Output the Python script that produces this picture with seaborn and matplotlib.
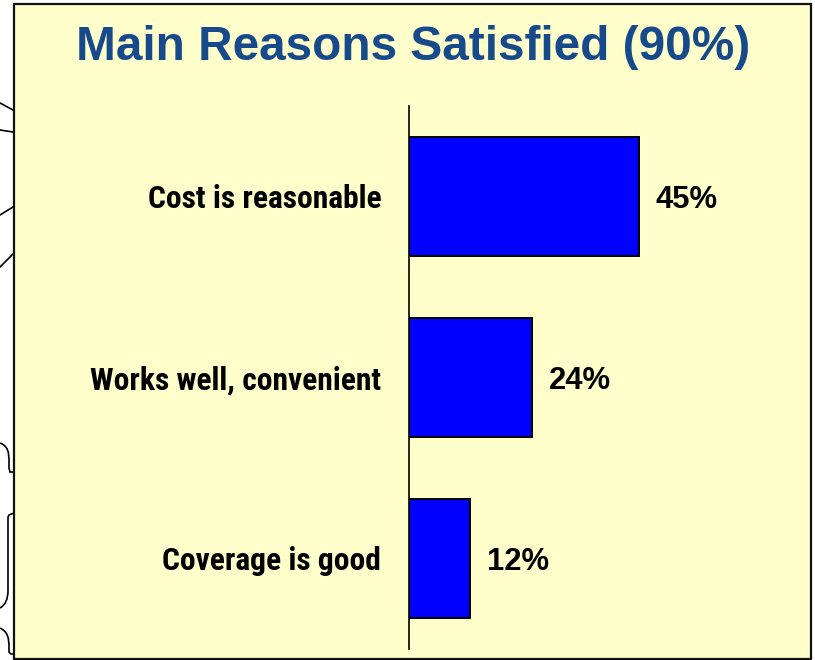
import matplotlib
matplotlib.use("Agg")
import matplotlib.pyplot as plt
import seaborn as sns
import pandas as pd
from matplotlib.patches import Rectangle, PathPatch
from matplotlib.path import Path
from matplotlib.lines import Line2D

categories = ["Cost is reasonable", "Works well, convenient", "Coverage is good"]
values = [45, 24, 12]
value_labels = ["45%", "24%", "12%"]
title = "Main Reasons Satisfied (90%)"

sns.set_theme(style="white")
plt.rcParams['font.family'] = ['Liberation Sans', 'DejaVu Sans']

W, H = 815, 660
fig = plt.figure(figsize=(W / 100, H / 100), dpi=100)
fig.patch.set_facecolor("white")

def fx(x):
    return x / W

def fy(y):
    return 1 - y / H

# yellow panel
fig.patches.append(Rectangle((fx(14), fy(659)), fx(811) - fx(14), fy(4) - fy(659),
                             transform=fig.transFigure, facecolor="#FFFFCC",
                             edgecolor="#111111", linewidth=1.6, zorder=-5))

# left decorations (cropped background shapes)
for (x0, y0, x1, y1) in [(0, 103, 13, 110), (0, 130, 13, 132), (0, 215, 13, 207), (0, 267, 13, 254)]:
    fig.add_artist(Line2D([fx(x0), fx(x1)], [fy(y0), fy(y1)], transform=fig.transFigure,
                          color="black", linewidth=1.2, zorder=-6))

def bracket(pts, codes):
    p = Path([(fx(a), fy(b)) for a, b in pts], codes)
    fig.patches.append(PathPatch(p, transform=fig.transFigure, facecolor="none",
                                 edgecolor="black", linewidth=1.2, zorder=-6))

C = Path.CURVE4
bracket([(0, 443), (8, 446), (9, 452), (9, 462), (9, 468), (10, 472), (14, 472)],
        [Path.MOVETO, C, C, C, Path.LINETO, Path.LINETO, Path.LINETO])
bracket([(14, 513), (9, 515), (8, 517), (8, 590), (8, 600), (5, 605), (0, 608)],
        [Path.MOVETO, Path.LINETO, Path.LINETO, Path.LINETO, C, C, C])
bracket([(0, 628), (8, 632), (9, 638), (9, 648), (9, 652), (11, 654), (14, 654)],
        [Path.MOVETO, C, C, C, Path.LINETO, Path.LINETO, Path.LINETO])

# axes
ax_left, ax_right, ax_top, ax_bottom = 409, 811, 106, 649
ax = fig.add_axes([fx(ax_left), fy(ax_bottom), fx(ax_right) - fx(ax_left), (ax_bottom - ax_top) / H])
ax.set_facecolor("none")
ax.set_zorder(2)

df = pd.DataFrame({"category": categories, "value": values})
sns.barplot(data=df, x="value", y="category", orient="h", color="#0000FF",
            saturation=1, edgecolor="black", linewidth=1.4, width=0.66, ax=ax)

px_per_unit = (639 - 409) / 45
ax.set_xlim(0, (ax_right - ax_left) / px_per_unit)
ax.set_ylim(2.5, -0.5)
ax.set_xlabel("")
ax.set_ylabel("")
ax.set_xticks([])
for s in ["top", "right", "bottom"]:
    ax.spines[s].set_visible(False)
ax.spines["left"].set_color("black")
ax.spines["left"].set_linewidth(1.2)

narrow = ['Roboto Condensed', 'PT Sans Narrow', 'Liberation Sans', 'DejaVu Sans']
ax.set_yticks(range(len(categories)))
ax.set_yticklabels(categories, family=narrow, fontsize=22.7, fontweight="bold", color="black")
ax.tick_params(axis="y", length=0, pad=20)

for i, (v, lab) in enumerate(zip(values, value_labels)):
    ax.annotate(lab, xy=(v, i), xytext=(12.2, -8.3), textcoords="offset points",
                ha="left", va="baseline", fontsize=22.3, fontweight="bold", color="black")

fig.text(fx(413), fy(60), title, ha="center", va="baseline", fontsize=34.4,
         fontweight="bold", color="#174A8B")

fig.savefig("out.png", dpi=100, facecolor="white")
